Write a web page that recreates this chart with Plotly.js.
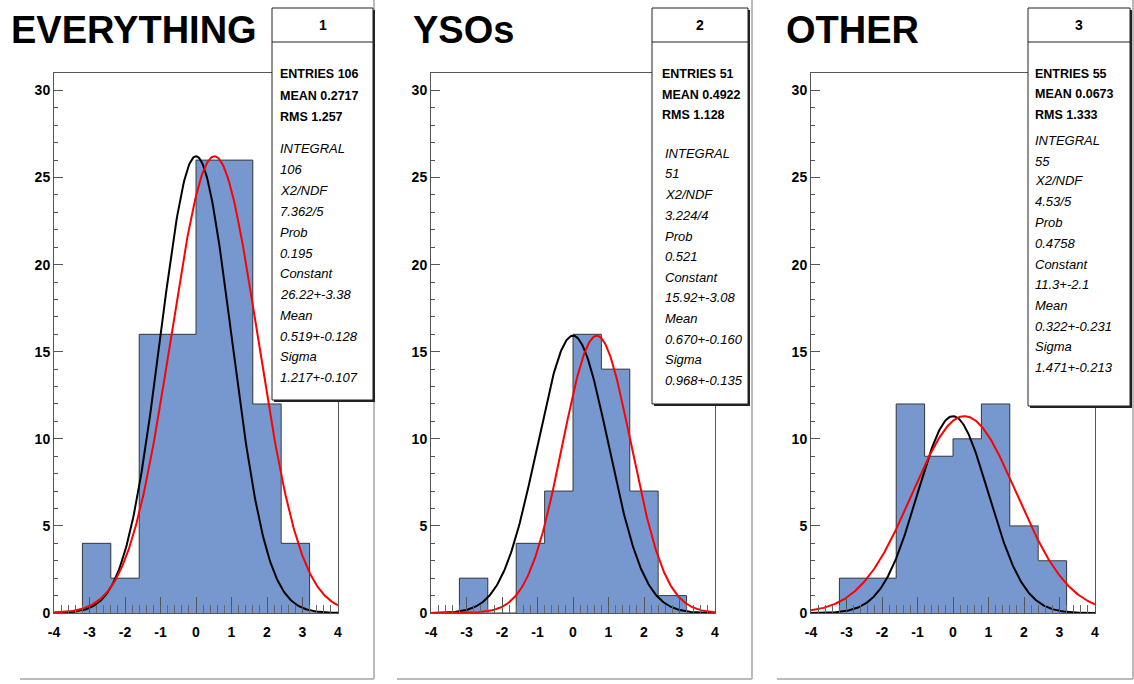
<!DOCTYPE html>
<html>
<head>
<meta charset="utf-8">
<script src="https://cdn.plot.ly/plotly-3.0.1.min.js"></script>
<style>html,body{margin:0;padding:0;background:#fff;}#chart{width:1134px;height:684px;}</style>
</head>
<body>
<div id="chart"></div>
<script>
// ---- data ----
const binEdges = [-4, -3.2, -2.4, -1.6, -0.8, 0, 0.8, 1.6, 2.4, 3.2, 4];
const countsEverything = [0, 4, 2, 16, 16, 26, 26, 12, 4, 0];
const countsYSOs       = [0, 2, 0, 4, 7, 16, 14, 7, 1, 0];
const countsOther      = [0, 2, 2, 12, 9, 10, 12, 5, 3, 0];

const panelTitles = ["EVERYTHING", "YSOs", "OTHER"];
const statsIds = ["1", "2", "3"];
const statsEntries = ["106", "51", "55"];
const statsMean = ["0.2717", "0.4922", "0.0673"];
const statsRms = ["1.257", "1.128", "1.333"];
const statsIntegral = ["106", "51", "55"];
const statsChi2 = ["7.362/5", "3.224/4", "4.53/5"];
const statsProb = ["0.195", "0.521", "0.4758"];
const statsConstant = ["26.22+-3.38", "15.92+-3.08", "11.3+-2.1"];
const statsFitMean = ["0.519+-0.128", "0.670+-0.160", "0.322+-0.231"];
const statsSigma = ["1.217+-0.107", "0.968+-0.135", "1.471+-0.213"];

// fitted gaussian parameters (red) and reference unit gaussian (black, mean 0, sigma 1)
const fitConstant = [26.22, 15.92, 11.3];
const fitMean = [0.519, 0.670, 0.322];
const fitSigma = [1.217, 0.968, 1.471];
const refMean = [0, 0, 0];
const refSigma = [1, 1, 1];

const xTickVals = [-4, -3, -2, -1, 0, 1, 2, 3, 4];
const yTickVals = [0, 5, 10, 15, 20, 25, 30];

// ---- layout helpers ----
const W = 1134, H = 684;
const px = v => v / W;
const py = v => 1 - v / H;

const allCounts = [countsEverything, countsYSOs, countsOther];
const xDom = [[54, 338], [431, 715], [811, 1095]];
const yDom = [613, 73];
const boxGeom = [
  {x0: 272, x1: 373, y0: 8, y1: 400, div: 42, tx: 278, lines: [74, 96, 117, 149, 170, 191, 212, 232, 253, 273, 294, 315, 336, 356, 377]},
  {x0: 652, x1: 748, y0: 8, y1: 404, div: 42, tx: 660, itx: 663, lines: [74, 95, 115, 153, 173, 194, 215, 236, 256, 277, 297, 318, 339, 359, 380]},
  {x0: 1028, x1: 1130, y0: 8, y1: 406, div: 42, tx: 1033, lines: [74, 94, 115, 140, 161, 181, 202, 222, 243, 264, 284, 305, 326, 346, 367]}
];
const titleX = [9, 411, 784];
const padGeom = [{x0: 20, x1: 374}, {x0: 397, x1: 752}, {x0: 777, x1: 1133}];

const fillColor = '#7698cf';
const font = 'Liberation Sans, Arial, Helvetica, sans-serif';

const traces = [];
const shapes = [];
const annotations = [];
const layout = {
  width: W, height: H,
  margin: {l: 0, r: 0, t: 0, b: 0},
  paper_bgcolor: '#fff', plot_bgcolor: '#fff',
  showlegend: false,
  bargap: 0,
  font: {family: font}
};

function gaussCurve(c, m, s) {
  const xs = [], ys = [];
  for (let i = 0; i <= 320; i++) {
    const x = -4 + i * 0.025;
    xs.push(x);
    ys.push(c * Math.exp(-0.5 * Math.pow((x - m) / s, 2)));
  }
  return {xs, ys};
}

for (let p = 0; p < 3; p++) {
  const sfx = p === 0 ? '' : String(p + 1);
  const xa = 'x' + sfx, ya = 'y' + sfx;
  const counts = allCounts[p];
  const centers = counts.map((_, i) => (binEdges[i] + binEdges[i + 1]) / 2);
  const widths = counts.map((_, i) => binEdges[i + 1] - binEdges[i]);

  traces.push({type: 'bar', x: centers, y: counts, width: widths, xaxis: xa, yaxis: ya,
    marker: {color: fillColor, line: {width: 0}}, hoverinfo: 'skip'});
  traces.push({type: 'scatter', mode: 'lines', x: binEdges, y: counts.concat([counts[counts.length - 1]]),
    line: {shape: 'hv', color: '#3a3a3a', width: 1}, xaxis: xa, yaxis: ya, hoverinfo: 'skip'});
  const blk = gaussCurve(fitConstant[p], refMean[p], refSigma[p]);
  traces.push({type: 'scatter', mode: 'lines', x: blk.xs, y: blk.ys, xaxis: xa, yaxis: ya,
    line: {color: '#000', width: 2}, hoverinfo: 'skip'});
  const red = gaussCurve(fitConstant[p], fitMean[p], fitSigma[p]);
  traces.push({type: 'scatter', mode: 'lines', x: red.xs, y: red.ys, xaxis: xa, yaxis: ya,
    line: {color: '#ff0000', width: 2}, hoverinfo: 'skip'});

  layout['xaxis' + sfx] = {
    domain: [px(xDom[p][0]), px(xDom[p][1])], anchor: ya, range: [-4, 4],
    showgrid: false, zeroline: false, showline: true, mirror: true, linecolor: '#555', linewidth: 1,
    tickmode: 'array', tickvals: xTickVals, ticktext: xTickVals.map(String),
    ticks: 'inside', ticklen: 16, tickcolor: '#555', tickwidth: 1,
    minor: {dtick: 0.2, tick0: 0, ticks: 'inside', ticklen: 8, tickcolor: '#666', tickwidth: 1, showgrid: false},
    tickfont: {family: font, size: 14, color: '#000', weight: 'bold'},
    ticklabelstandoff: 6,
    fixedrange: true
  };
  layout['yaxis' + sfx] = {
    domain: [py(yDom[0]), py(yDom[1])], anchor: xa, range: [0, 31],
    showgrid: false, zeroline: false, showline: true, mirror: true, linecolor: '#555', linewidth: 1,
    tickmode: 'array', tickvals: yTickVals, ticktext: yTickVals.map(String),
    ticks: 'inside', ticklen: 9, tickcolor: '#555', tickwidth: 1,
    minor: {dtick: 1, tick0: 0, ticks: 'inside', ticklen: 4, tickcolor: '#555', tickwidth: 1, showgrid: false},
    tickfont: {family: font, size: 14, color: '#000', weight: 'bold'},
    fixedrange: true
  };

  // pad border (bottom and right)
  const pg = padGeom[p];
  shapes.push({type: 'line', xref: 'paper', yref: 'paper', x0: px(pg.x0), x1: px(pg.x1), y0: py(679), y1: py(679),
    line: {color: '#bbbbbb', width: 2}, layer: 'above'});
  shapes.push({type: 'line', xref: 'paper', yref: 'paper', x0: px(pg.x1), x1: px(pg.x1), y0: py(0), y1: py(679),
    line: {color: '#bbbbbb', width: 2}, layer: 'above'});

  // stats box
  const b = boxGeom[p];
  shapes.push({type: 'rect', xref: 'paper', yref: 'paper', x0: px(b.x0 + 2), x1: px(b.x1 + 2), y0: py(b.y1 + 2), y1: py(b.y0 + 2),
    fillcolor: '#222', line: {width: 0}, layer: 'above'});
  shapes.push({type: 'rect', xref: 'paper', yref: 'paper', x0: px(b.x0), x1: px(b.x1), y0: py(b.y1), y1: py(b.y0),
    fillcolor: '#fff', line: {color: '#222', width: 1}, layer: 'above'});
  shapes.push({type: 'line', xref: 'paper', yref: 'paper', x0: px(b.x0), x1: px(b.x1), y0: py(b.div), y1: py(b.div),
    line: {color: '#222', width: 1}, layer: 'above'});
  annotations.push({xref: 'paper', yref: 'paper', x: px((b.x0 + b.x1) / 2), y: py(25), xanchor: 'center', yanchor: 'middle',
    text: statsIds[p], showarrow: false, font: {family: font, size: 14, color: '#000', weight: 'bold'}});
  const boldLines = ['ENTRIES ' + statsEntries[p], 'MEAN ' + statsMean[p], 'RMS ' + statsRms[p]];
  const italLines = ['INTEGRAL', statsIntegral[p], 'X2/NDF', statsChi2[p], 'Prob', statsProb[p],
    'Constant', statsConstant[p], 'Mean', statsFitMean[p], 'Sigma', statsSigma[p]];
  boldLines.forEach((t, i) => annotations.push({xref: 'paper', yref: 'paper', x: px(b.tx), y: py(b.lines[i]),
    xanchor: 'left', yanchor: 'middle', text: t, showarrow: false, font: {family: font, size: 12.5, color: '#000', weight: 'bold'}}));
  italLines.forEach((t, i) => annotations.push({xref: 'paper', yref: 'paper', x: px(b.itx || b.tx), y: py(b.lines[i + 3]),
    xanchor: 'left', yanchor: 'middle', text: t, showarrow: false, font: {family: font, size: 13, color: '#000', style: 'italic'}}));

  // panel title
  annotations.push({xref: 'paper', yref: 'paper', x: px(titleX[p]), y: py(30), xanchor: 'left', yanchor: 'middle',
    text: panelTitles[p], showarrow: false, font: {family: font, size: 38, color: '#000', weight: 'bold'}});
}

layout.shapes = shapes;
layout.annotations = annotations;

Plotly.newPlot('chart', traces, layout, {displayModeBar: false, staticPlot: true});
</script>
</body>
</html>
